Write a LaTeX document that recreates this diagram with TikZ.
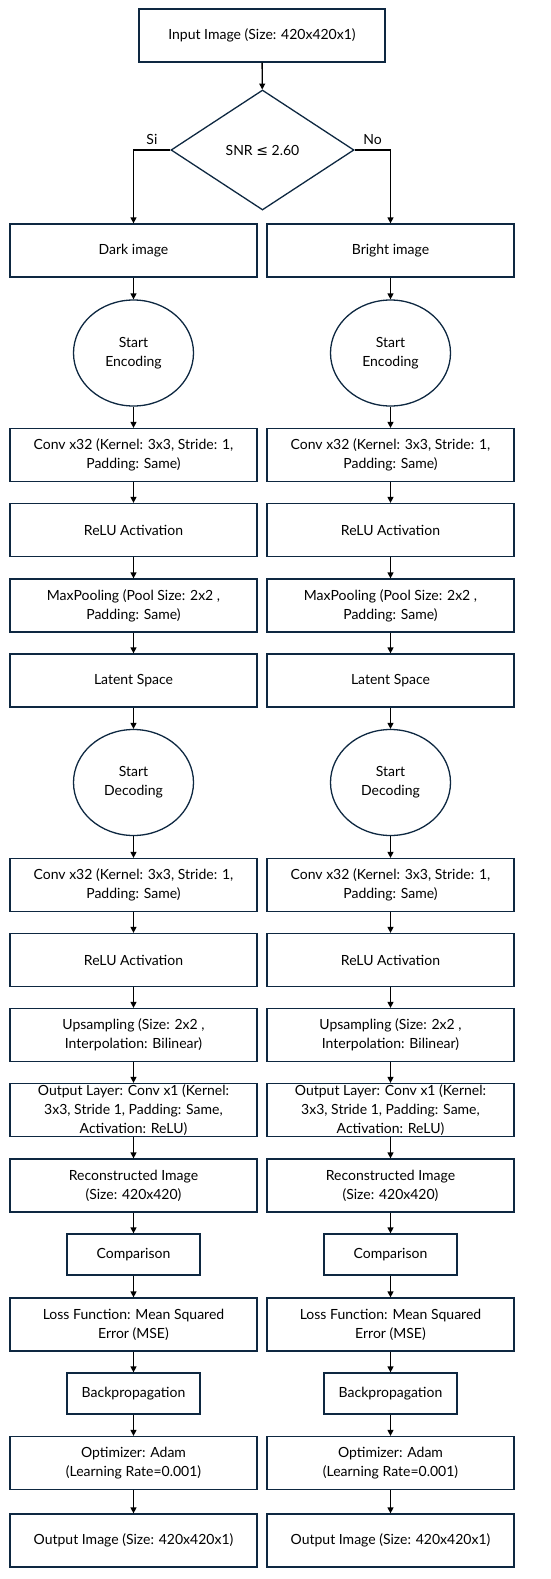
\documentclass[tikz,border=0pt]{standalone}
\usepackage{fontspec}
\setmainfont{Lato}
\newfontfamily\symf{DejaVu Sans}
\usetikzlibrary{shapes.geometric,arrows.meta}
\definecolor{navy}{HTML}{0E2841}
\begin{document}
\begin{tikzpicture}[x=1pt,y=-1pt,
  txt/.style={font=\fontsize{14}{19}\selectfont, text=black},
  box/.style={txt, draw=navy, line width=1.3pt, minimum width=247pt, minimum height=53pt, inner sep=0pt, align=center},
  sbox/.style={box, minimum width=133pt, minimum height=41pt},
  oval/.style={txt, ellipse, draw=navy, line width=1.3pt, minimum width=120pt, minimum height=106pt, inner sep=0pt, align=center},
  dia/.style={txt, diamond, draw=navy, line width=1.3pt, minimum width=183pt, minimum height=120pt, aspect=1.5, inner sep=0pt},
  arr/.style={-{Triangle[length=6pt,width=6pt]}, line width=1.3pt, black}]
\useasboundingbox (0,0) rectangle (550,1579);
\node[box, minimum width=246pt] (in) at (262,35.5) {Input Image (Size: 420x420x1)};
\node[dia] (snr) at (262.5,150) {SNR {\symf ≤} 2.60};
\draw[arr] (in) -- (snr);
\foreach \c/\x/\lab in {L/133.5/Dark image, R/390.5/Bright image}{
  \node[box] (img\c) at (\x,250.5) {\lab};
  \node[oval] (enc\c) at (\x,353) {Start\\Encoding};
  \node[box] (convA\c) at (\x,455) {Conv x32 (Kernel: 3x3, Stride: 1,\\Padding: Same)};
  \node[box] (reluA\c) at (\x,530) {ReLU Activation};
  \node[box] (pool\c) at (\x,605.5) {MaxPooling (Pool Size: 2x2 ,\\Padding: Same)};
  \node[box] (lat\c) at (\x,680.5) {Latent Space};
  \node[oval] (dec\c) at (\x,782.5) {Start\\Decoding};
  \node[box] (convB\c) at (\x,885) {Conv x32 (Kernel: 3x3, Stride: 1,\\Padding: Same)};
  \node[box] (reluB\c) at (\x,960) {ReLU Activation};
  \node[box] (ups\c) at (\x,1035) {Upsampling (Size: 2x2 ,\\Interpolation: Bilinear)};
  \node[box] (outl\c) at (\x,1110) {Output Layer: Conv x1 (Kernel:\\3x3, Stride 1, Padding: Same,\\Activation: ReLU)};
  \node[box] (rec\c) at (\x,1185.5) {Reconstructed Image\\(Size: 420x420)};
  \node[sbox] (cmp\c) at (\x,1254.5) {Comparison};
  \node[box] (loss\c) at (\x,1324.5) {Loss Function: Mean Squared\\Error (MSE)};
  \node[sbox] (bp\c) at (\x,1393.5) {Backpropagation};
  \node[box] (opt\c) at (\x,1463) {Optimizer: Adam\\(Learning Rate=0.001)};
  \node[box] (out\c) at (\x,1540.5) {Output Image (Size: 420x420x1)};
  \draw[arr] (img\c) -- (enc\c);
  \draw[arr] (enc\c) -- (convA\c);
  \draw[arr] (convA\c) -- (reluA\c);
  \draw[arr] (reluA\c) -- (pool\c);
  \draw[arr] (pool\c) -- (lat\c);
  \draw[arr] (lat\c) -- (dec\c);
  \draw[arr] (dec\c) -- (convB\c);
  \draw[arr] (convB\c) -- (reluB\c);
  \draw[arr] (reluB\c) -- (ups\c);
  \draw[arr] (ups\c) -- (outl\c);
  \draw[arr] (outl\c) -- (rec\c);
  \draw[arr] (rec\c) -- (cmp\c);
  \draw[arr] (cmp\c) -- (loss\c);
  \draw[arr] (loss\c) -- (bp\c);
  \draw[arr] (bp\c) -- (opt\c);
  \draw[arr] (opt\c) -- (out\c);
}
\draw[arr] (snr.west) -| (imgL.north) node[pos=0.25, above, txt, yshift=1pt] (si) {Si};
\draw[arr] (snr.east) -| (imgR.north) node[pos=0.25, above, txt, yshift=1pt] (no) {No};
\end{tikzpicture}
\end{document}
